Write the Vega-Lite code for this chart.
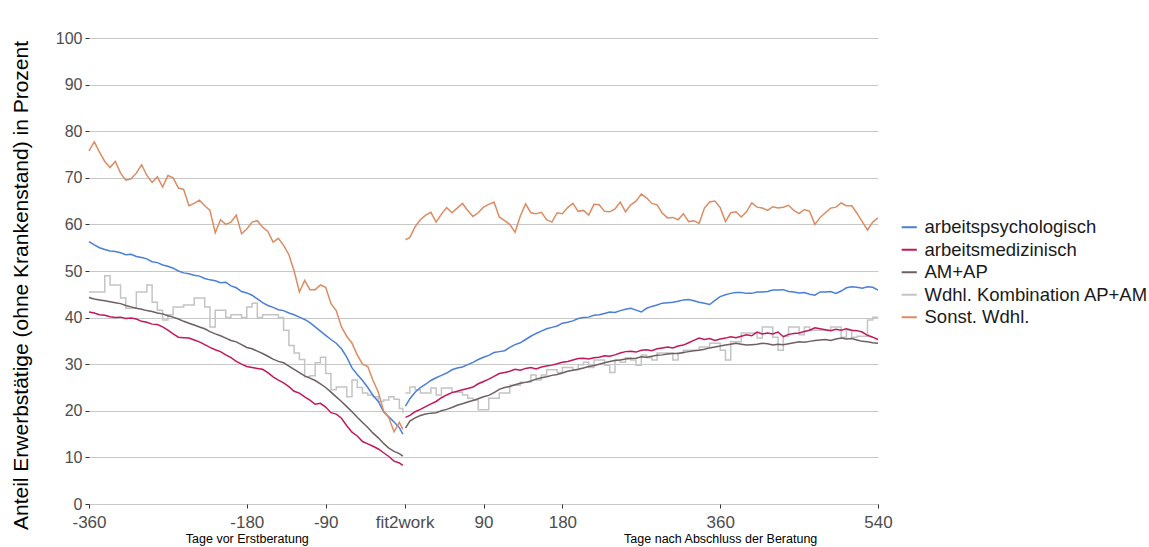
{
  "$schema": "https://vega.github.io/schema/vega-lite/v6.json",
  "width": 789,
  "height": 466,
  "autosize": {"type": "none"},
  "padding": {"left": 89, "top": 38, "right": 271, "bottom": 43},
  "background": "white",
  "config": {"view": {"stroke": null}, "font": "Liberation Sans"},
  "datasets": {
    "series": [
      {"d":-360,"p":"b","a":56.3,"m":41.2,"x":44.3,"w":45.5,"s":75.8},
      {"d":-354,"p":"b","a":55.6,"m":41,"x":44,"w":45.5,"s":77.7},
      {"d":-348,"p":"b","a":55,"m":40.6,"x":43.8,"w":45.5,"s":75.5},
      {"d":-342,"p":"b","a":54.6,"m":40.5,"x":43.6,"w":49,"s":73.5},
      {"d":-336,"p":"b","a":54.3,"m":40.2,"x":43.4,"w":47,"s":72.2},
      {"d":-330,"p":"b","a":54.2,"m":40,"x":43.2,"w":47,"s":73.5},
      {"d":-324,"p":"b","a":53.9,"m":40.1,"x":43,"w":44.2,"s":71},
      {"d":-318,"p":"b","a":53.5,"m":39.8,"x":42.6,"w":42,"s":69.5},
      {"d":-312,"p":"b","a":53.6,"m":39.9,"x":42.3,"w":42,"s":69.8},
      {"d":-306,"p":"b","a":53.1,"m":39.7,"x":42,"w":45.5,"s":71},
      {"d":-300,"p":"b","a":52.9,"m":39.2,"x":41.8,"w":45.5,"s":72.8},
      {"d":-294,"p":"b","a":52.6,"m":39,"x":41.5,"w":47,"s":70.5},
      {"d":-288,"p":"b","a":52,"m":38.6,"x":41.3,"w":43.3,"s":69},
      {"d":-282,"p":"b","a":51.8,"m":38.5,"x":41,"w":41.6,"s":70.2},
      {"d":-276,"p":"b","a":51.3,"m":38,"x":40.8,"w":39.5,"s":68},
      {"d":-270,"p":"b","a":51,"m":37.3,"x":40.4,"w":40.6,"s":70.5},
      {"d":-264,"p":"b","a":50.6,"m":36.5,"x":40.1,"w":42.3,"s":70},
      {"d":-258,"p":"b","a":50,"m":35.8,"x":39.7,"w":42.3,"s":67.8},
      {"d":-252,"p":"b","a":49.6,"m":35.7,"x":39.2,"w":42.7,"s":67.5},
      {"d":-246,"p":"b","a":49.4,"m":35.6,"x":38.8,"w":42.7,"s":64},
      {"d":-240,"p":"b","a":49.1,"m":35.2,"x":38.4,"w":44.2,"s":64.5},
      {"d":-234,"p":"b","a":48.9,"m":34.8,"x":38,"w":44.2,"s":65.2},
      {"d":-228,"p":"b","a":48.4,"m":34.2,"x":37.6,"w":42.3,"s":64},
      {"d":-222,"p":"b","a":48.1,"m":33.6,"x":37,"w":38,"s":63},
      {"d":-216,"p":"b","a":47.9,"m":33.1,"x":36.5,"w":41.6,"s":58.2},
      {"d":-210,"p":"b","a":47.5,"m":32.7,"x":36.1,"w":41.6,"s":61},
      {"d":-204,"p":"b","a":47.6,"m":32,"x":35.6,"w":40,"s":60},
      {"d":-198,"p":"b","a":46.8,"m":31.4,"x":35.1,"w":40.6,"s":60.5},
      {"d":-192,"p":"b","a":46.4,"m":30.6,"x":34.8,"w":40.6,"s":62},
      {"d":-186,"p":"b","a":45.6,"m":30,"x":34.2,"w":40,"s":58},
      {"d":-180,"p":"b","a":45.3,"m":29.5,"x":33.6,"w":42.3,"s":59},
      {"d":-174,"p":"b","a":44.8,"m":29.3,"x":33.3,"w":43.1,"s":60.5},
      {"d":-168,"p":"b","a":44,"m":29.1,"x":32.8,"w":40,"s":60.8},
      {"d":-162,"p":"b","a":43.2,"m":28.9,"x":32.3,"w":40.6,"s":59.4},
      {"d":-156,"p":"b","a":42.6,"m":28.2,"x":31.7,"w":40.6,"s":58.5},
      {"d":-150,"p":"b","a":42.2,"m":27.3,"x":31.1,"w":40.6,"s":56.2},
      {"d":-144,"p":"b","a":41.7,"m":26.6,"x":30.6,"w":40,"s":57},
      {"d":-138,"p":"b","a":41.5,"m":26,"x":30.3,"w":37.3,"s":55.5},
      {"d":-132,"p":"b","a":41,"m":25.2,"x":29.6,"w":34,"s":53.5},
      {"d":-126,"p":"b","a":40.6,"m":24.2,"x":28.9,"w":32.4,"s":50},
      {"d":-120,"p":"b","a":40.1,"m":23.8,"x":28.2,"w":31,"s":45.5},
      {"d":-114,"p":"b","a":39.6,"m":23,"x":27.5,"w":27.3,"s":48},
      {"d":-108,"p":"b","a":38.9,"m":22.3,"x":27,"w":27.5,"s":46},
      {"d":-102,"p":"b","a":38,"m":21.4,"x":26.5,"w":30.3,"s":46},
      {"d":-96,"p":"b","a":37.1,"m":21.6,"x":25.8,"w":31.5,"s":47},
      {"d":-90,"p":"b","a":36.2,"m":20.8,"x":25,"w":28,"s":46.5},
      {"d":-84,"p":"b","a":35.3,"m":19.6,"x":24,"w":24.5,"s":43},
      {"d":-78,"p":"b","a":34.5,"m":19.3,"x":23,"w":25.1,"s":41.5},
      {"d":-72,"p":"b","a":33.3,"m":18.4,"x":22,"w":25.1,"s":38},
      {"d":-66,"p":"b","a":31.5,"m":16.8,"x":20.9,"w":23,"s":36},
      {"d":-60,"p":"b","a":29.2,"m":15.4,"x":19.8,"w":26.6,"s":34.5},
      {"d":-54,"p":"b","a":27.8,"m":14.6,"x":18.6,"w":25,"s":32},
      {"d":-48,"p":"b","a":26.5,"m":13.4,"x":17.5,"w":23.8,"s":30},
      {"d":-42,"p":"b","a":25,"m":12.9,"x":16.4,"w":23.4,"s":29.5},
      {"d":-36,"p":"b","a":23.3,"m":12.4,"x":15.2,"w":23,"s":26.5},
      {"d":-30,"p":"b","a":22,"m":11.8,"x":14.2,"w":22,"s":24},
      {"d":-24,"p":"b","a":19.8,"m":11,"x":13,"w":22.3,"s":20},
      {"d":-18,"p":"b","a":18.7,"m":10.2,"x":12,"w":23,"s":18.5},
      {"d":-12,"p":"b","a":17.6,"m":9.2,"x":11.3,"w":22.5,"s":15.5},
      {"d":-6,"p":"b","a":16.4,"m":8.8,"x":10.8,"w":20.5,"s":17.5},
      {"d":-2,"p":"b","a":15,"m":8.3,"x":10.3,"w":19.5,"s":16},
      {"d":1,"p":"a","a":21,"m":18.6,"x":16.3,"w":23.8,"s":56.7},
      {"d":6,"p":"a","a":22.6,"m":19,"x":17.8,"w":25.1,"s":57.2},
      {"d":12,"p":"a","a":24,"m":19.8,"x":18.5,"w":24.5,"s":59.5},
      {"d":18,"p":"a","a":25,"m":20.3,"x":19,"w":23.8,"s":61},
      {"d":24,"p":"a","a":25.7,"m":20.9,"x":19.3,"w":23.8,"s":62},
      {"d":30,"p":"a","a":26.5,"m":21.5,"x":19.5,"w":24.9,"s":62.6},
      {"d":36,"p":"a","a":27.1,"m":22,"x":19.6,"w":23.4,"s":60.5},
      {"d":42,"p":"a","a":27.6,"m":22.8,"x":20,"w":24.9,"s":62.2},
      {"d":48,"p":"a","a":28.1,"m":23.4,"x":20.3,"w":24.9,"s":63.6},
      {"d":54,"p":"a","a":28.8,"m":23.9,"x":20.7,"w":24,"s":62.5},
      {"d":60,"p":"a","a":29.2,"m":24.2,"x":21.2,"w":24,"s":63.5},
      {"d":66,"p":"a","a":29.4,"m":24.5,"x":21.5,"w":23.4,"s":64.5},
      {"d":72,"p":"a","a":29.9,"m":24.8,"x":21.9,"w":22.7,"s":63},
      {"d":78,"p":"a","a":30.4,"m":25.1,"x":22.2,"w":22.3,"s":61.7},
      {"d":84,"p":"a","a":31,"m":25.8,"x":22.6,"w":20.2,"s":62.5},
      {"d":90,"p":"a","a":31.5,"m":26.3,"x":23,"w":20.2,"s":63.7},
      {"d":96,"p":"a","a":31.9,"m":26.8,"x":23.3,"w":22.7,"s":64.3},
      {"d":102,"p":"a","a":32.5,"m":27.4,"x":23.9,"w":22.7,"s":64.8},
      {"d":108,"p":"a","a":32.7,"m":28,"x":24.6,"w":23.8,"s":61.6},
      {"d":114,"p":"a","a":32.9,"m":28.2,"x":25,"w":23.8,"s":60.8},
      {"d":120,"p":"a","a":33.6,"m":28.5,"x":25.2,"w":25.5,"s":60},
      {"d":126,"p":"a","a":34.2,"m":28.9,"x":25.6,"w":25.5,"s":58.3},
      {"d":132,"p":"a","a":34.6,"m":28.7,"x":25.9,"w":26.1,"s":61.8},
      {"d":138,"p":"a","a":35.3,"m":29.1,"x":26.1,"w":26.1,"s":64.4},
      {"d":144,"p":"a","a":36,"m":29.3,"x":26.4,"w":27.7,"s":62.5},
      {"d":150,"p":"a","a":36.6,"m":29,"x":26.8,"w":26.6,"s":62.3},
      {"d":156,"p":"a","a":37.1,"m":29.4,"x":27.1,"w":27.7,"s":62.6},
      {"d":162,"p":"a","a":37.6,"m":29.6,"x":27.3,"w":28.8,"s":61},
      {"d":168,"p":"a","a":37.9,"m":29.8,"x":27.6,"w":28.8,"s":60.5},
      {"d":174,"p":"a","a":38.2,"m":30.1,"x":27.8,"w":28.2,"s":62.5},
      {"d":180,"p":"a","a":38.8,"m":30.4,"x":28.1,"w":29.3,"s":62.3},
      {"d":186,"p":"a","a":39,"m":30.6,"x":28.5,"w":29.3,"s":63.6},
      {"d":192,"p":"a","a":39.3,"m":30.9,"x":28.7,"w":28.8,"s":64.5},
      {"d":198,"p":"a","a":39.8,"m":31.2,"x":28.9,"w":29.9,"s":62.8},
      {"d":204,"p":"a","a":40,"m":31.3,"x":29.2,"w":30.4,"s":63},
      {"d":210,"p":"a","a":40.1,"m":31.1,"x":29.5,"w":29.3,"s":62},
      {"d":216,"p":"a","a":40.5,"m":31.4,"x":29.7,"w":30.9,"s":64.3},
      {"d":222,"p":"a","a":40.6,"m":31.5,"x":30,"w":30.9,"s":64.2},
      {"d":228,"p":"a","a":40.9,"m":31.8,"x":30.3,"w":29.8,"s":62.8},
      {"d":234,"p":"a","a":41.2,"m":31.7,"x":30.6,"w":28.2,"s":62.7},
      {"d":240,"p":"a","a":41.1,"m":32,"x":30.8,"w":30.9,"s":63.3},
      {"d":246,"p":"a","a":41.5,"m":32.4,"x":30.9,"w":30.4,"s":64.8},
      {"d":252,"p":"a","a":41.8,"m":32.7,"x":31.1,"w":31.4,"s":62.7},
      {"d":258,"p":"a","a":42,"m":32.8,"x":31.2,"w":30.9,"s":64.2},
      {"d":264,"p":"a","a":41.6,"m":32.6,"x":31.3,"w":29.8,"s":65},
      {"d":270,"p":"a","a":41.2,"m":33,"x":31.6,"w":32,"s":66.5},
      {"d":276,"p":"a","a":42,"m":33.1,"x":31.5,"w":31.4,"s":65.7},
      {"d":282,"p":"a","a":42.4,"m":32.9,"x":31.7,"w":30.9,"s":64.5},
      {"d":288,"p":"a","a":42.7,"m":33.3,"x":31.9,"w":32.4,"s":64.2},
      {"d":294,"p":"a","a":43.1,"m":33.5,"x":32,"w":32.4,"s":62.4},
      {"d":300,"p":"a","a":43.2,"m":33.7,"x":32.2,"w":32.4,"s":61.4},
      {"d":306,"p":"a","a":43.3,"m":33.5,"x":32.3,"w":30.9,"s":61.5},
      {"d":312,"p":"a","a":43.5,"m":33.9,"x":32.3,"w":32.4,"s":61},
      {"d":318,"p":"a","a":43.8,"m":34.1,"x":32.5,"w":33,"s":62.3},
      {"d":324,"p":"a","a":43.9,"m":34.6,"x":32.7,"w":33,"s":60.6},
      {"d":330,"p":"a","a":43.6,"m":35.1,"x":32.9,"w":33,"s":60.8},
      {"d":336,"p":"a","a":43.3,"m":35.6,"x":33,"w":33.7,"s":60.2},
      {"d":342,"p":"a","a":43.1,"m":35.3,"x":33.2,"w":33.7,"s":63.5},
      {"d":348,"p":"a","a":42.8,"m":35.5,"x":33.5,"w":34.5,"s":64.8},
      {"d":354,"p":"a","a":43.7,"m":35.1,"x":33.7,"w":34.5,"s":65},
      {"d":360,"p":"a","a":44.5,"m":35.4,"x":33.9,"w":33,"s":63.6},
      {"d":366,"p":"a","a":44.9,"m":35.6,"x":34.1,"w":30.9,"s":60.6},
      {"d":372,"p":"a","a":45.2,"m":35.9,"x":34.3,"w":34.8,"s":62.5},
      {"d":378,"p":"a","a":45.4,"m":35.7,"x":34.5,"w":34.8,"s":62.7},
      {"d":384,"p":"a","a":45.4,"m":36,"x":34.3,"w":36.7,"s":61.6},
      {"d":390,"p":"a","a":45.2,"m":36.3,"x":34.1,"w":36.7,"s":62.7},
      {"d":396,"p":"a","a":45.2,"m":36.1,"x":34.2,"w":36.7,"s":64.6},
      {"d":402,"p":"a","a":45.5,"m":36.9,"x":34.3,"w":35.6,"s":63.7},
      {"d":408,"p":"a","a":45.5,"m":36.5,"x":34.5,"w":38,"s":63.5},
      {"d":414,"p":"a","a":45.6,"m":36.7,"x":34.4,"w":38,"s":63},
      {"d":420,"p":"a","a":45.9,"m":36.5,"x":34.1,"w":35.8,"s":63.8},
      {"d":426,"p":"a","a":45.9,"m":36.9,"x":34.3,"w":33,"s":63.5},
      {"d":432,"p":"a","a":46,"m":35.9,"x":34.2,"w":36,"s":63.7},
      {"d":438,"p":"a","a":45.6,"m":36.4,"x":34.4,"w":38,"s":64.1},
      {"d":444,"p":"a","a":45.5,"m":36.6,"x":34.6,"w":38,"s":63},
      {"d":450,"p":"a","a":45.3,"m":36.7,"x":34.8,"w":36.3,"s":62.3},
      {"d":456,"p":"a","a":45.4,"m":37,"x":34.7,"w":38,"s":63.2},
      {"d":462,"p":"a","a":45,"m":37.3,"x":34.9,"w":37.3,"s":62.8},
      {"d":468,"p":"a","a":44.8,"m":37.8,"x":35.1,"w":37.3,"s":60},
      {"d":474,"p":"a","a":45.5,"m":37.6,"x":35.2,"w":37.3,"s":61.5},
      {"d":480,"p":"a","a":45.5,"m":37.4,"x":35.3,"w":37.3,"s":62.5},
      {"d":486,"p":"a","a":45.6,"m":37.2,"x":35.1,"w":38,"s":63.5},
      {"d":492,"p":"a","a":45.2,"m":37.5,"x":35.4,"w":38,"s":63.7},
      {"d":498,"p":"a","a":45.7,"m":37.3,"x":35.6,"w":35.8,"s":64.6},
      {"d":504,"p":"a","a":46.4,"m":37.6,"x":35.4,"w":37.3,"s":64},
      {"d":510,"p":"a","a":46.6,"m":37.3,"x":35.5,"w":35.8,"s":64},
      {"d":516,"p":"a","a":46.5,"m":37.2,"x":35.2,"w":36,"s":62.4},
      {"d":522,"p":"a","a":46.3,"m":36.9,"x":34.9,"w":36,"s":60.6},
      {"d":528,"p":"a","a":46.6,"m":36.2,"x":34.8,"w":39.5,"s":58.8},
      {"d":534,"p":"a","a":46.5,"m":35.8,"x":34.6,"w":40.1,"s":60.5},
      {"d":540,"p":"a","a":45.9,"m":35.3,"x":34.5,"w":40.1,"s":61.4}
    ],
    "notes": [
      {"d": -180, "t": "Tage vor Erstberatung"},
      {"d": 360, "t": "Tage nach Abschluss der Beratung"}
    ]
  },
  "layer": [
    {
      "data": {"name": "series"},
      "transform": [
        {"fold": ["a", "m", "x", "w", "s"], "as": ["k", "v"]},
        {"filter": "datum.k == 'w'"}
      ],
      "mark": {"type": "line", "interpolate": "step-after", "strokeWidth": 1.5},
      "encoding": {
        "x": {
          "field": "d", "type": "quantitative",
          "scale": {"domain": [-360, 540], "nice": false},
          "axis": {
            "orient": "bottom",
            "values": [-360, -180, -90, 0, 90, 180, 360, 540],
            "labelExpr": "datum.value == 0 ? 'fit2work' : '' + datum.value",
            "labelFontSize": 17,
            "labelColor": "#4d4d4d",
            "labelPadding": 6,
            "labelFlush": false,
            "labelLimit": 300,
            "tickColor": "#333333",
            "tickSize": 4,
            "domain": false,
            "grid": false,
            "title": null
          }
        },
        "y": {
          "field": "v", "type": "quantitative",
          "scale": {"domain": [0, 100], "nice": false},
          "axis": {
            "values": [0, 10, 20, 30, 40, 50, 60, 70, 80, 90, 100],
            "grid": true,
            "gridColor": "#c8c8c8",
            "gridWidth": 1,
            "domain": false,
            "tickColor": "#333333",
            "tickSize": 4,
            "labelFontSize": 16,
            "labelColor": "#4d4d4d",
            "labelPadding": 3,
            "title": "Anteil Erwerbstätige (ohne Krankenstand) in Prozent",
            "titleFontSize": 21,
            "titleFontWeight": "normal",
            "titleColor": "#000000",
            "titlePadding": 24,
            "titleY": 247
          }
        },
        "color": {
          "field": "k", "type": "nominal",
          "scale": {
            "domain": ["a", "m", "x", "w", "s"],
            "range": ["#4a7fd8", "#c2185b", "#6e6060", "#c4c4c4", "#dc8c63"]
          },
          "legend": {
            "orient": "none",
            "legendX": 811,
            "legendY": 180,
            "title": null,
            "symbolType": "stroke",
            "symbolStrokeWidth": 2,
            "symbolSize": 230,
            "labelFontSize": 18.5,
            "labelColor": "#1a1a1a",
            "labelOffset": 6,
            "labelLimit": 300,
            "rowPadding": 3.5,
            "labelExpr": "datum.value == 'a' ? 'arbeitspsychologisch' : datum.value == 'm' ? 'arbeitsmedizinisch' : datum.value == 'x' ? 'AM+AP' : datum.value == 'w' ? 'Wdhl. Kombination AP+AM' : 'Sonst. Wdhl.'"
          }
        },
        "detail": {"field": "p", "type": "nominal"}
      }
    },
    {
      "data": {"name": "series"},
      "transform": [
        {"fold": ["a", "m", "x", "w", "s"], "as": ["k", "v"]},
        {"filter": "datum.k != 'w'"}
      ],
      "mark": {"type": "line", "strokeWidth": 1.5},
      "encoding": {
        "x": {"field": "d", "type": "quantitative", "axis": null},
        "y": {"field": "v", "type": "quantitative"},
        "color": {"field": "k", "type": "nominal"},
        "detail": {"field": "p", "type": "nominal"}
      }
    },
    {
      "data": {"name": "notes"},
      "mark": {"type": "rule", "opacity": 0},
      "encoding": {
        "x": {
          "field": "d", "type": "quantitative",
          "axis": {
            "orient": "bottom",
            "values": [-180, 360],
            "labelExpr": "datum.value < 0 ? 'Tage vor Erstberatung' : 'Tage nach Abschluss der Beratung'",
            "labelFontSize": 12.5,
            "labelColor": "#000000",
            "labelPadding": 28,
            "labelLimit": 400,
            "ticks": false,
            "domain": false,
            "grid": false,
            "title": null
          }
        }
      }
    }
  ],
  "resolve": {"axis": {"x": "independent"}}
}
